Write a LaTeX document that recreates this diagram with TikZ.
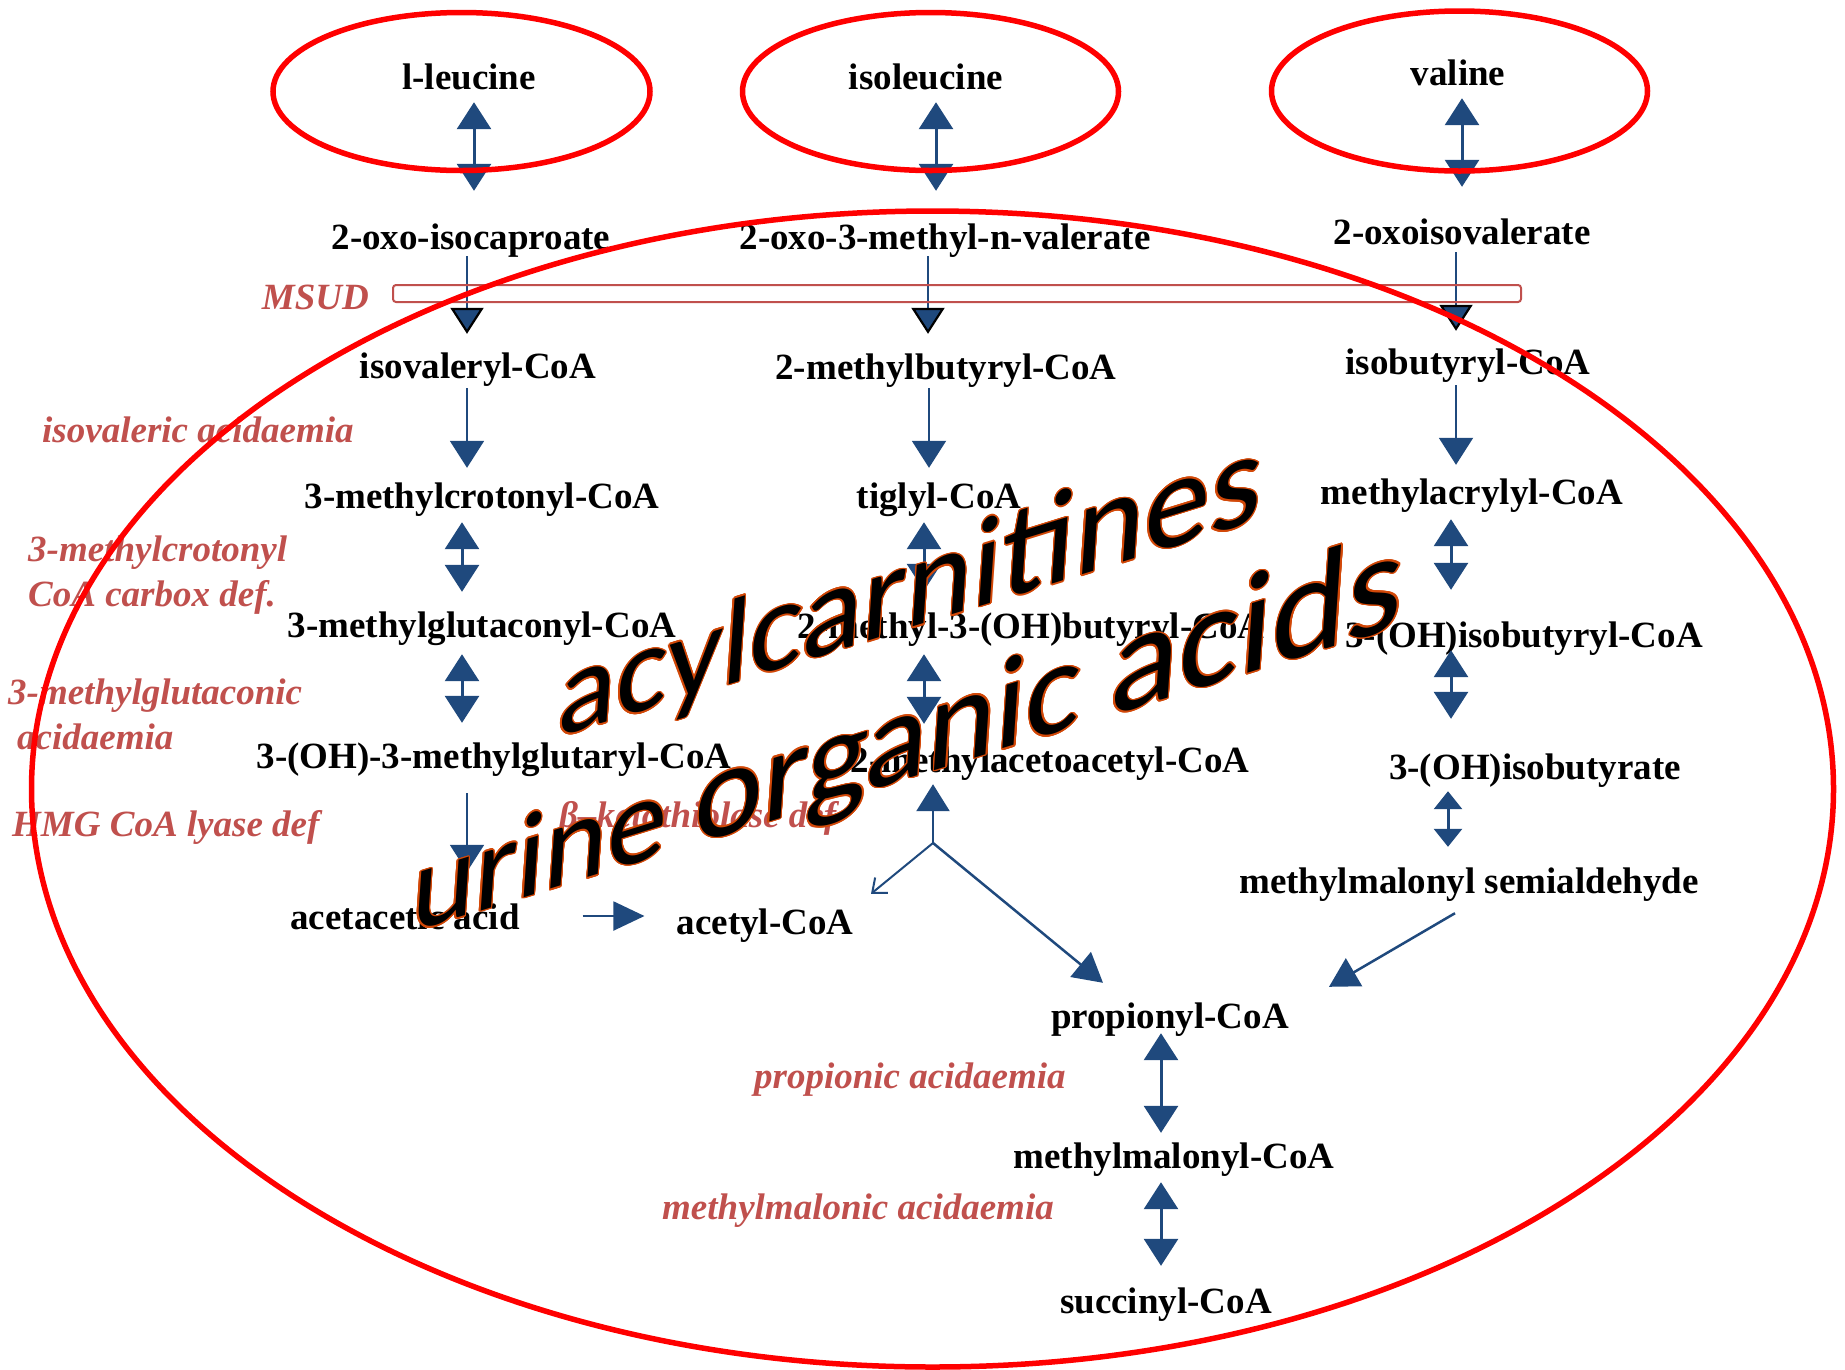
\documentclass[tikz,border=0pt]{standalone}
\usepackage{fontspec}
\setmainfont{Liberation Serif}
\newfontfamily\wordfont{Carlito}
\usetikzlibrary{arrows.meta,calc}
\definecolor{pathblue}{RGB}{31,73,125}
\definecolor{disred}{RGB}{192,80,77}
\definecolor{wordedge}{RGB}{210,72,8}
\newcommand\wordart[1]{\foreach \ang in {0,20,...,340}{\makebox[0pt][l]{\hspace*{\fpeval{1.4*cosd(\ang)}pt}\raisebox{\fpeval{1.4*sind(\ang)}pt}{\color{wordedge}#1}}}#1}
\newcommand\wsize[1]{\fontsize{#1}{150}\selectfont}
\tikzset{
  txt/.style={inner sep=0pt, anchor=base, text height=25pt, text depth=8pt,
    font=\bfseries\fontsize{37}{44}\selectfont},
  dis/.style={inner sep=0pt, anchor=base west, text=disred,
    font=\bfseries\itshape\fontsize{37}{44}\selectfont},
  dbl/.style={draw=pathblue, line width=3pt,
    arrows={Triangle[length=27pt,width=34pt]-Triangle[length=27pt,width=34pt]}},
  smalldbl/.style={draw=pathblue, line width=3pt,
    arrows={Triangle[length=18pt,width=28pt]-Triangle[length=18pt,width=28pt]}},
  single/.style={draw=pathblue, line width=2pt, -{Triangle[length=27pt,width=34pt]}},
  slanted/.style={draw=pathblue, line width=2.5pt, -{Triangle[length=29pt,width=32pt]}},
  thinarrow/.style={draw=pathblue, line width=2pt, -{Straight Barb[length=12pt,width=20pt]}},
  msudarrow/.style={draw=pathblue, line width=2pt,
    -{Triangle[length=26pt,width=33pt,fill=pathblue,color=black,line width=2.2pt]}},
  msudbox/.style={draw=disred, line width=2pt, rounded corners=3pt},
  redring/.style={draw=red, line width=5.5pt},
  overlaytext/.style={inner sep=0pt, anchor=base west, text=black,
    font=\wordfont\fontsize{127}{150}\selectfont}
}
\begin{document}
\begin{tikzpicture}[x=1pt,y=-1pt]
\path[use as bounding box] (0,0) rectangle (1845,1369);

% ---- metabolites ----
\node[txt] (leu) at (469,89) {l-leucine};
\node[txt] (ile) at (926,89) {isoleucine};
\node[txt] (val) at (1458,85) {valine};
\node[txt] (oic) at (471,249) {2-oxo-isocaproate};
\node[txt] (omv) at (945,249) {2-oxo-3-methyl-n-valerate};
\node[txt] (oiv) at (1462,244) {2-oxoisovalerate};
\node[txt] (ivc) at (478,378) {isovaleryl-CoA};
\node[txt] (mbc) at (946,379) {2-methylbutyryl-CoA};
\node[txt] (ibc) at (1468,374) {isobutyryl-CoA};
\node[txt] (mcc) at (482,508) {3-methylcrotonyl-CoA};
\node[txt] (tgc) at (939,508) {tiglyl-CoA};
\node[txt] (mac) at (1472,504) {methylacrylyl-CoA};
\node[txt] (mgc) at (482,637) {3-methylglutaconyl-CoA};
\node[txt] (mhb) at (1031,638) {2-methyl-3-(OH)butyryl-CoA};
\node[txt] (hibc) at (1524,647) {3-(OH)isobutyryl-CoA};
\node[txt] (hmg) at (494,768) {3-(OH)-3-methylglutaryl-CoA};
\node[txt] (maa) at (1050,772) {2-methylacetoacetyl-CoA};
\node[txt] (hib) at (1535,779) {3-(OH)isobutyrate};
\node[txt] (aca) at (405,929) {acetacetic acid};
\node[txt] (acc) at (765,934) {acetyl-CoA};
\node[txt] (mms) at (1469,893) {methylmalonyl semialdehyde};
\node[txt] (ppc) at (1170,1028) {propionyl-CoA};
\node[txt] (mmc) at (1174,1168) {methylmalonyl-CoA};
\node[txt] (suc) at (1166,1313) {succinyl-CoA};

% ---- disorders ----
\node[dis, anchor=base east] (msud) at (369,309) {MSUD};
\node[dis] (iva) at (42,442) {isovaleric acidaemia};
\node[dis] (mcd1) at (28,561) {3-methylcrotonyl};
\node[dis] (mcd2) at (28,606) {CoA carbox def.};
\node[dis] (mga1) at (8,704) {3-methylglutaconic};
\node[dis] (mga2) at (17,749) {acidaemia};
\node[dis] (hmgd) at (12,836) {HMG CoA lyase def};
\node[dis] (bkt) at (559,827) {β–ketothiolase def};
\node[dis] (pa) at (754,1088) {propionic acidaemia};
\node[dis] (mma) at (662,1219) {methylmalonic acidaemia};

% ---- left column ----
\draw[dbl] ($(474,0 |- leu.south)+(0,5)$) -- ($(474,0 |- oic.north)+(0,-33)$);
\draw[msudarrow] ($(467,0 |- oic.south)+(0,-1)$) -- ($(467,0 |- ivc.north)+(0,-19)$);
\draw[single] ($(467,0 |- ivc.south)+(0,2)$) -- ($(467,0 |- mcc.north)+(0,-15)$);
\draw[dbl] ($(462,0 |- mcc.south)+(0,6)$) -- ($(462,0 |- mgc.north)+(0,-20)$);
\draw[dbl] ($(462,0 |- mgc.south)+(0,9)$) -- ($(462,0 |- hmg.north)+(0,-20)$);
\draw[single] ($(467,0 |- hmg.south)+(0,17)$) -- ($(467,0 |- aca.north)+(0,-32)$);
\draw[single, -{Triangle[length=31pt,width=29pt]}] ($(aca.base east)+(63,-13)$) -- ($(acc.base west)+(-32,-18)$);

% ---- middle column ----
\draw[dbl] ($(936,0 |- ile.south)+(0,5)$) -- ($(936,0 |- omv.north)+(0,-33)$);
\draw[msudarrow] ($(928,0 |- omv.south)+(0,-1)$) -- ($(928,0 |- mbc.north)+(0,-20)$);
\draw[single] ($(929,0 |- mbc.south)+(0,1)$) -- ($(929,0 |- tgc.north)+(0,-15)$);
\draw[dbl] ($(924,0 |- tgc.south)+(0,6)$) -- ($(924,0 |- mhb.north)+(0,-22)$);
\draw[dbl] ($(924,0 |- mhb.south)+(0,8)$) -- ($(924,0 |- maa.north)+(0,-23)$);
\coordinate (J) at (933,843);
\draw[slanted, -{Triangle[length=27pt,width=33pt]}] (J) -- ($(J |- maa.south)+(0,4)$);
\draw[thinarrow] (J) -- ($(acc.north)+(106,-15)$);
\draw[slanted] (J) -- ($(ppc.north)+(-67,-20)$);

% ---- right column ----
\draw[dbl] ($(1462,0 |- val.south)+(0,5)$) -- ($(1462,0 |- oiv.north)+(0,-32)$);
\draw[msudarrow] ($(1456,0 |- oiv.south)+(0,0)$) -- ($(1456,0 |- ibc.north)+(0,-18)$);
\draw[single] ($(1456,0 |- ibc.south)+(0,3)$) -- ($(1456,0 |- mac.north)+(0,-14)$);
\draw[dbl] ($(1451,0 |- mac.south)+(0,7)$) -- ($(1451,0 |- hibc.north)+(0,-32)$);
\draw[dbl] ($(1451,0 |- hibc.south)+(0,-5)$) -- ($(1451,0 |- hib.north)+(0,-35)$);
\draw[smalldbl] ($(1448,0 |- hib.south)+(0,4)$) -- ($(1448,0 |- mms.north)+(0,-21)$);
\draw[slanted] ($(mms.south)+(-14,12)$) -- ($(ppc.north)+(159,-16)$);

% ---- bottom ----
\draw[dbl] ($(1161,0 |- ppc.south)+(0,-3)$) -- ($(1161,0 |- mmc.north)+(0,-10)$);
\draw[dbl] ($(1161,0 |- mmc.south)+(0,6)$) -- ($(1161,0 |- suc.north)+(0,-22)$);

% ---- MSUD bar and rings ----
\draw[msudbox] (393,285) rectangle (1521,302);
\draw[redring] (461.5,91.5) ellipse [x radius=188.5pt, y radius=79pt];
\draw[redring] (930.5,91.5) ellipse [x radius=188pt, y radius=79pt];
\draw[redring] (1459.5,91) ellipse [x radius=188pt, y radius=80pt];
\draw[redring] (932.5,789) ellipse [x radius=901pt, y radius=578pt];

% ---- overlay words ----
\node[overlaytext, yslant=0.31, xslant=0.07] (acyl) at (556,738)
  {\wordart{\wsize{121}acyl\wsize{126}carni\wsize{132}tines}};
\node[overlaytext, yslant=0.31, xslant=0.07] (uoa) at (410,933)
  {\wordart{\wsize{120}urine \wsize{130}organic \wsize{143}acids}};
\end{tikzpicture}
\end{document}
